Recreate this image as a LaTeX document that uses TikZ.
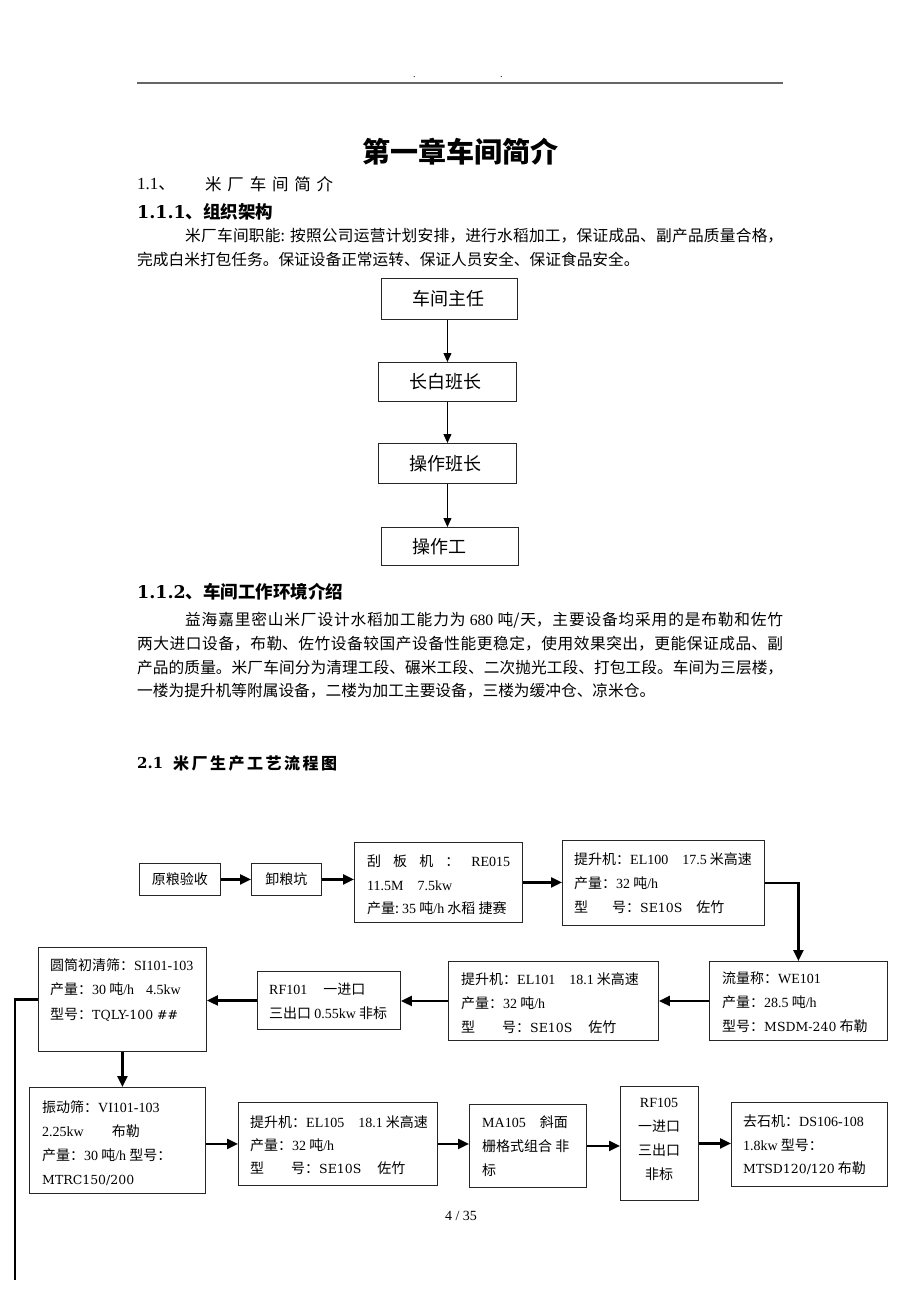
\documentclass[tikz,border=0pt]{standalone}
\usepackage{fontspec}
\setmainfont{Noto Sans CJK SC}
\newfontfamily\tlatf{Liberation Serif}
\newfontfamily\dlatf{DejaVu Serif}
\newcommand\tlat[1]{{\tlatf #1}}
\newcommand\dlat[1]{{\dlatf\fontsize{12.5}{24}\selectfont #1}}
\newcommand\dlatb[1]{{\dlatf\bfseries #1}}
\usetikzlibrary{arrows.meta}
\XeTeXlinebreaklocale "zh"
\XeTeXlinebreakskip=0pt plus 2pt
\tikzset{
  fbox/.style={draw=black!85, line width=0.9pt, inner sep=0pt, anchor=north west, font=\fontsize{14}{24}\selectfont},
  orgbox/.style={draw=black!85, line width=0.9pt, inner xsep=31pt, inner ysep=0pt, align=left, anchor=north west, font=\fontsize{18}{20}\selectfont},
  lbl/.style={anchor=north west, inner sep=0pt, align=left, font=\fontsize{14}{24}\selectfont},
  farr/.style={line width=2.2pt, -{Triangle[length=11pt,width=10pt]}},
  oarr/.style={line width=1pt, -{Triangle[length=9pt,width=8pt]}},
  fline/.style={line width=2.2pt},
  ptext/.style={anchor=west, inner sep=0pt},
  para/.style={anchor=north west, inner sep=0pt, text width=646pt, align=justify, font=\fontsize{15.7}{23.8}\selectfont},
}
\begin{document}
\begin{tikzpicture}[x=1pt,y=-1pt]
\useasboundingbox[fill=white] (0,0) rectangle (920,1302);

% header
\draw[line width=1.3pt, black!60] (137,83) -- (783,83);
\node[ptext, font=\tlatf\fontsize{10}{10}\selectfont] (dot1) at (413,77) {.};
\node[ptext, font=\tlatf\fontsize{10}{10}\selectfont] (dot2) at (500,77) {.};

% title and headings
\node[inner sep=0pt, font=\bfseries\fontsize{28}{28}\selectfont] (title) at (460,152) {第一章车间简介};
\node[ptext, font=\fontsize{17}{17}\selectfont] (h11) at (137,184) {\tlat{1.1}、};
\node[ptext, font=\fontsize{16.5}{16.5}\selectfont] (h11t) at (205,184) {\makebox[128pt][s]{米\hfill 厂\hfill 车\hfill 间\hfill 简\hfill 介}};
\node[ptext, font=\bfseries\fontsize{17.5}{17.5}\selectfont] (h111) at (137,212) {\dlatb{1.1.1}、组织架构};

\node[para] (p1) at (137,228) {\noindent\hspace*{48pt}米厂车间职能: 按照公司运营计划安排，进行水稻加工，保证成品、副产品质量合格，\linebreak 完成白米打包任务。保证设备正常运转、保证人员安全、保证食品安全。};

% organisation chart
\node[orgbox, text width=74pt, minimum height=41pt] (o1) at (381,278) {车间主任};
\node[orgbox, text width=76pt, minimum height=39pt] (o2) at (378,362) {长白班长};
\node[orgbox, text width=76pt, minimum height=40pt] (o3) at (378,443) {操作班长};
\node[orgbox, text width=75pt, minimum height=38pt] (o4) at (381,527) {操作工};
\draw[oarr] (o2.north |- o1.south) -- (o2.north);
\draw[oarr] (o2.south) -- (o2.south |- o3.north);
\draw[oarr] (o3.south) -- (o3.south |- o4.north);

\node[ptext, font=\bfseries\fontsize{17.5}{17.5}\selectfont] (h112) at (137,592) {\dlatb{1.1.2}、车间工作环境介绍};

\node[para] (p2) at (137,612) {\noindent\hspace*{48pt}益海嘉里密山米厂设计水稻加工能力为 \tlat{680} 吨/天，主要设备均采用的是布勒和佐竹\linebreak 两大进口设备，布勒、佐竹设备较国产设备性能更稳定，使用效果突出，更能保证成品、副\linebreak 产品的质量。米厂车间分为清理工段、碾米工段、二次抛光工段、打包工段。车间为三层楼，\linebreak 一楼为提升机等附属设备，二楼为加工主要设备，三楼为缓冲仓、凉米仓。};

\node[ptext, font=\bfseries\fontsize{15}{15}\selectfont] (h21) at (137,763) {\dlatb{2.1}};
\node[ptext, font=\bfseries\fontsize{16}{16}\selectfont] (h21t) at (173,763) {\makebox[164pt][s]{米\hfill 厂\hfill 生\hfill 产\hfill 工\hfill 艺\hfill 流\hfill 程\hfill 图}};

% flow chart boxes
\node[fbox, minimum width=81pt, minimum height=32pt] (ylys) at (139,863) {原粮验收};
\node[fbox, minimum width=70pt, minimum height=32pt] (xlk) at (251,863) {卸粮坑};
\node[fbox, minimum width=168pt, minimum height=80pt] (gb) at (354,842) {};
\node[fbox, minimum width=202pt, minimum height=85pt] (el100) at (562,840) {};
\node[fbox, minimum width=178pt, minimum height=79pt] (we) at (709,961) {};
\node[fbox, minimum width=210pt, minimum height=79pt] (el101) at (448,961) {};
\node[fbox, minimum width=143pt, minimum height=58pt] (rf101) at (257,971) {};
\node[fbox, minimum width=168pt, minimum height=104pt] (si) at (38,947) {};
\node[fbox, minimum width=176pt, minimum height=106pt] (vi) at (29,1087) {};
\node[fbox, minimum width=199pt, minimum height=83pt] (el105) at (238,1102) {};
\node[fbox, minimum width=117pt, minimum height=83pt] (ma) at (469,1104) {};
\node[fbox, minimum width=78pt, minimum height=114pt] (rf105) at (620,1086) {};
\node[fbox, minimum width=156pt, minimum height=84pt] (ds) at (731,1102) {};

% flow chart labels
\node[lbl, font=\fontsize{14}{23.5}\selectfont] (gbt) at (367,855) {\makebox[143pt][s]{刮\hfill 板\hfill 机\hfill ：\hfill\tlat{RE015}}\\\tlat{11.5M\hspace{14pt}7.5kw}\\产量:\ \tlat{35} 吨\tlat{/h} 水稻 捷赛};
\node[lbl] (el100t) at (574,852) {提升机：\tlat{EL100}\hspace{14pt}\tlat{17.5} 米高速\\产量：\tlat{32} 吨\tlat{/h}\\型\hspace{24pt}号：\dlat{SE10S}\hspace{14pt}佐竹};
\node[lbl] (wet) at (722,972) {流量称：\tlat{WE101}\\产量：\tlat{28.5} 吨\tlat{/h}\\型号：\dlat{MSDM-240} 布勒};
\node[lbl] (el101t) at (461,972) {提升机：\tlat{EL101}\hspace{14pt}\tlat{18.1} 米高速\\产量：\tlat{32} 吨\tlat{/h}\\型\hspace{27pt}号：\dlat{SE10S}\hspace{16pt}佐竹};
\node[lbl, font=\fontsize{14}{23.5}\selectfont] (rf101t) at (269,983) {\tlat{RF101}\hspace{16pt}一进口\\三出口 \tlat{0.55kw} 非标};
\node[lbl, font=\fontsize{14}{24.5}\selectfont] (sit) at (50,958) {圆筒初清筛：\tlat{SI101-103}\\产量：\tlat{30} 吨\tlat{/h}\hspace{12pt}\tlat{4.5kw}\\型号：\dlat{TQLY-100 \#\#}};
\node[lbl, font=\fontsize{14}{24.3}\selectfont] (vit) at (42,1100) {振动筛：\tlat{VI101-103}\\\tlat{2.25kw}\hspace{28pt}布勒\\产量：\tlat{30} 吨\tlat{/h} 型号：\\\dlat{MTRC150/200}};
\node[lbl, font=\fontsize{14}{23}\selectfont] (el105t) at (250,1115) {提升机：\tlat{EL105}\hspace{14pt}\tlat{18.1} 米高速\\产量：\tlat{32} 吨\tlat{/h}\\型\hspace{27pt}号：\dlat{SE10S}\hspace{16pt}佐竹};
\node[lbl] (mat) at (482,1116) {\tlat{MA105}\hspace{14pt}斜面\\栅格式组合\ 非\\标};
\node[lbl, anchor=north, align=center, font=\fontsize{14}{24}\selectfont] (rf105t) at (659,1098) {\tlat{RF105}\\一进口\\三出口\\非标};
\node[lbl, font=\fontsize{14}{23.5}\selectfont] (dst) at (743,1115) {去石机：\tlat{DS106-108}\\\tlat{1.8kw} 型号：\\\dlat{MTSD120/120} 布勒};

% flow chart connectors
\draw[farr] (ylys) -- (xlk);
\draw[farr] (xlk.east) -- (xlk.east -| gb.west);
\draw[farr] (gb.east) -- (gb.east -| el100.west);
\draw[farr] (el100.east) -| (we.north);
\draw[farr] (we.west) -- (we.west -| el101.east);
\draw[farr] (el101.west) -- (el101.west -| rf101.east);
\draw[farr] (rf101.west) -- (rf101.west -| si.east);
\draw[farr] (si.south) -- (si.south |- vi.north);
\coordinate (lend) at (15,1280);
\draw[fline] (si.west) -| (lend);
\draw[farr] (vi.east |- el105.west) -- (el105.west);
\draw[farr] (el105.east) -- (el105.east -| ma.west);
\draw[farr] (ma.east) -- (ma.east -| rf105.west);
\draw[farr] (rf105.east) -- (rf105.east -| ds.west);

% page number
\node[inner sep=0pt, font=\tlatf\fontsize{14}{14}\selectfont] (pg) at (461,1216) {4 / 35};
\end{tikzpicture}
\end{document}
